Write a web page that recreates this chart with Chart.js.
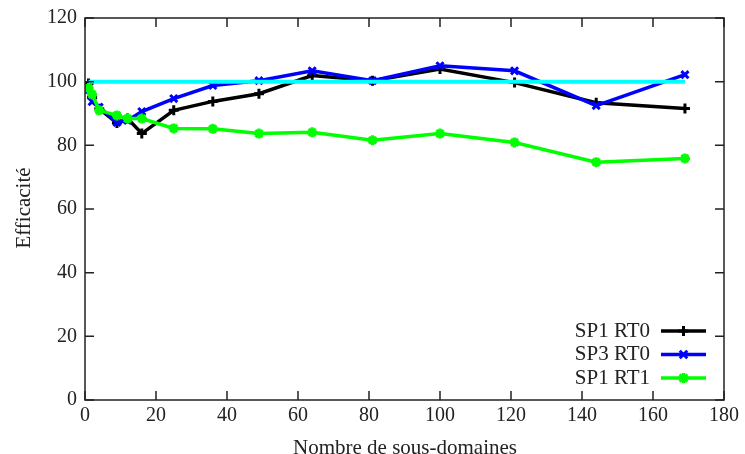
<!DOCTYPE html>
<html lang="fr">
<head>
  <meta charset="UTF-8">
  <title>Efficacité</title>
  <style>
    html, body { margin: 0; padding: 0; background: #fff; }
    #wrap { width: 745px; height: 454px; }
  </style>
</head>
<body>
  <div id="wrap"><canvas id="chart" width="745" height="454"></canvas></div>

  <script src="https://cdn.jsdelivr.net/npm/chart.js"></script>
  <script>
    // nombre de sous-domaines
    const subdomains = [1, 2, 4, 9, 12, 16, 25, 36, 49, 64, 81, 100, 121, 144, 169];

    const sp1Rt0 = [99.4, 95.0, 91.5, 87.0, 88.4, 83.7, 91.0, 93.8, 96.2, 101.9, 100.3, 104.0, 99.7, 93.4, 91.6];
    const sp3Rt0 = [97.5, 93.7, 92.0, 87.2, 87.8, 90.6, 94.7, 98.8, 100.3, 103.4, 100.3, 105.0, 103.4, 92.5, 102.2];
    const sp1Rt1 = [98.0, 96.0, 91.0, 89.4, 88.4, 88.4, 85.3, 85.2, 83.7, 84.1, 81.6, 83.7, 80.9, 74.7, 75.9];

    // reference line (efficacite ideale)
    const idealX = [1, 169];
    const idealY = [100, 100];

    const xTicks = [0, 20, 40, 60, 80, 100, 120, 140, 160, 180];
    const yTicks = [0, 20, 40, 60, 80, 100, 120];

    const FONT = "'Liberation Serif', 'DejaVu Serif', serif";

    function pts(xs, ys) {
      return xs.map((x, i) => ({ x: x, y: ys[i] }));
    }

    // little marker drawing for the legend
    function drawMarker(ctx, style, x, y, r) {
      ctx.beginPath();
      if (style === 'cross' || style === 'star') {
        ctx.moveTo(x - r, y); ctx.lineTo(x + r, y);
        ctx.moveTo(x, y - r); ctx.lineTo(x, y + r);
      }
      if (style === 'crossRot' || style === 'star') {
        const d = r * 0.75;
        ctx.moveTo(x - d, y - d); ctx.lineTo(x + d, y + d);
        ctx.moveTo(x - d, y + d); ctx.lineTo(x + d, y - d);
      }
      ctx.stroke();
    }

    // frame, inward ticks, axis titles and the legend (gnuplot look)
    const gnuplotFrame = {
      id: 'gnuplotFrame',
      afterDraw(chart) {
        const ctx = chart.ctx;
        const a = chart.chartArea;
        const xs = chart.scales.x, ys = chart.scales.y;
        ctx.save();
        ctx.strokeStyle = '#222';
        ctx.lineWidth = 1.5;
        ctx.strokeRect(a.left, a.top, a.right - a.left, a.bottom - a.top);

        const t = 9;
        ctx.beginPath();
        xTicks.forEach(v => {
          const px = xs.getPixelForValue(v);
          ctx.moveTo(px, a.bottom); ctx.lineTo(px, a.bottom - t);
          ctx.moveTo(px, a.top); ctx.lineTo(px, a.top + t);
        });
        yTicks.forEach(v => {
          const py = ys.getPixelForValue(v);
          ctx.moveTo(a.left, py); ctx.lineTo(a.left + t, py);
          ctx.moveTo(a.right, py); ctx.lineTo(a.right - t, py);
        });
        ctx.stroke();

        // axis titles
        ctx.fillStyle = '#222';
        ctx.font = '21px ' + FONT;
        ctx.textAlign = 'center';
        ctx.textBaseline = 'alphabetic';
        ctx.fillText('Nombre de sous-domaines', 405, 454);
        ctx.save();
        ctx.translate(24, 208);
        ctx.rotate(-Math.PI / 2);
        ctx.textBaseline = 'middle';
        ctx.fillText('Efficacité', 0, 0);
        ctx.restore();

        // legend in the lower right corner
        const rows = chart.data.datasets.filter(d => d.label);
        ctx.font = '21px ' + FONT;
        ctx.textAlign = 'right';
        ctx.textBaseline = 'middle';
        rows.forEach((d, i) => {
          const y = 331 + i * 23.5;
          ctx.fillStyle = '#222';
          ctx.fillText(d.label, 650, y);
          ctx.strokeStyle = d.borderColor;
          ctx.lineWidth = 3.5;
          ctx.beginPath();
          ctx.moveTo(661, y); ctx.lineTo(706, y);
          ctx.stroke();
          ctx.lineWidth = 3;
          drawMarker(ctx, d.pointStyle, 683.5, y, 5);
        });
        ctx.restore();
      }
    };

    const lineOpts = {
      showLine: true,
      borderWidth: 3.5,
      pointRadius: 5,
      pointBorderWidth: 3,
      pointHoverRadius: 5,
      fill: false,
      tension: 0
    };

    new Chart(document.getElementById('chart'), {
      type: 'scatter',
      data: {
        datasets: [
          Object.assign({}, lineOpts, {
            label: 'SP1 RT0',
            data: pts(subdomains, sp1Rt0),
            borderColor: '#000000',
            backgroundColor: '#000000',
            pointStyle: 'cross',
            order: 3
          }),
          Object.assign({}, lineOpts, {
            label: 'SP3 RT0',
            data: pts(subdomains, sp3Rt0),
            borderColor: '#0000ff',
            backgroundColor: '#0000ff',
            pointStyle: 'crossRot',
            order: 2
          }),
          Object.assign({}, lineOpts, {
            label: 'SP1 RT1',
            data: pts(subdomains, sp1Rt1),
            borderColor: '#00ff00',
            backgroundColor: '#00ff00',
            pointStyle: 'star',
            order: 1
          }),
          Object.assign({}, lineOpts, {
            label: '',
            data: pts(idealX, idealY),
            borderColor: '#00ffff',
            backgroundColor: '#00ffff',
            borderWidth: 4,
            pointRadius: 0,
            order: 0
          })
        ]
      },
      options: {
        responsive: false,
        animation: false,
        layout: { padding: { top: 17, right: 20, left: 0, bottom: 0 } },
        plugins: {
          legend: { display: false },
          tooltip: { enabled: false }
        },
        scales: {
          x: {
            type: 'linear',
            min: 0,
            max: 180,
            afterFit(s) { s.height = 54; },
            afterBuildTicks(s) { s.ticks = xTicks.map(v => ({ value: v })); },
            grid: { display: false, drawTicks: false },
            border: { display: false },
            ticks: {
              padding: 6,
              color: '#222',
              font: { family: FONT, size: 20, lineHeight: 1 },
              maxRotation: 0
            }
          },
          y: {
            type: 'linear',
            min: 0,
            max: 120,
            afterFit(s) { s.width = 85; },
            afterBuildTicks(s) { s.ticks = yTicks.map(v => ({ value: v })); },
            grid: { display: false, drawTicks: false },
            border: { display: false },
            ticks: {
              padding: 8,
              color: '#222',
              font: { family: FONT, size: 20, lineHeight: 1 }
            }
          }
        }
      },
      plugins: [gnuplotFrame]
    });
  </script>
</body>
</html>
